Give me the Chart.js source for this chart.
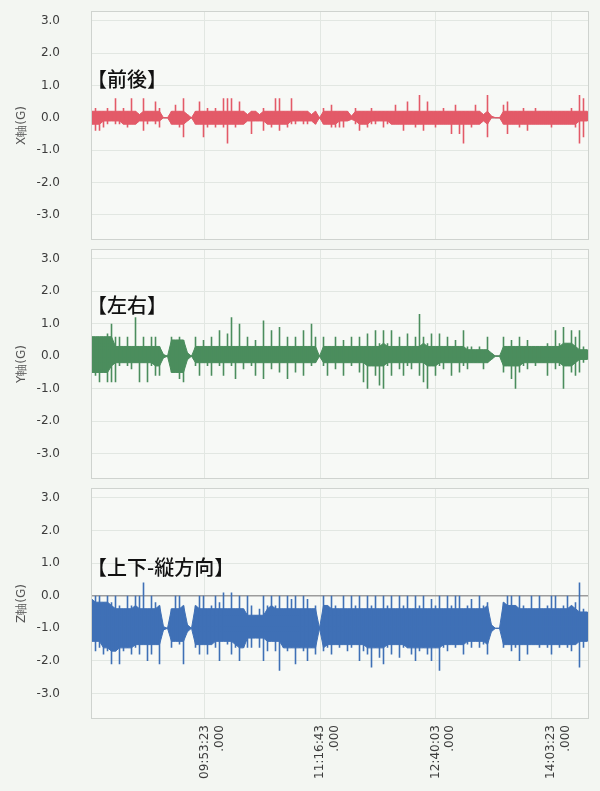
<!DOCTYPE html>
<html>
<head>
<meta charset="utf-8">
<script src="https://cdn.jsdelivr.net/npm/chart.js@4.4.1/dist/chart.umd.min.js"></script>
<style>
  html, body { margin: 0; padding: 0; background: #f3f6f2; }
  #wrap { position: relative; width: 600px; height: 791px; overflow: hidden; }
  canvas { position: absolute; left: 0; }
  .ttl {
    position: absolute; left: 87px; font-family: "Noto Sans CJK JP", sans-serif;
    font-size: 20px; line-height: 20px; color: #111; font-weight: 500; white-space: nowrap;
  }
</style>
</head>
<body>
<div id="wrap">
  <canvas id="xChart" width="600" height="245" style="top:0px"></canvas>
  <canvas id="yChart" width="600" height="239" style="top:245px"></canvas>
  <canvas id="zChart" width="600" height="307" style="top:484px"></canvas>
  <div class="ttl" style="top:69px">【前後】</div>
  <div class="ttl" style="top:295px">【左右】</div>
  <div class="ttl" style="top:557px">【上下-縦方向】</div>
</div>
<script>
// Time axis (seconds since midnight)
const TIME_MIN = 30661;
const TIME_MAX = 52250;
const TIME_TICKS = [35603, 40603, 45603, 50603]; // 09:53:23, 11:16:43, 12:40:03, 14:03:23
const Y_TICKS = [-3, -2, -1, 0, 1, 2, 3];

// Samples: one max/min pair per bucket
const T_START = 30683;
const STEP = 173.4;

// X axis (front/back) - bucket max / min
const xHi = [0.2,0.3,0.2,0.2,0.3,0.2,0.6,0.2,0.3,0.2, 0.6,0.2,0.1,0.6,0.2,0.2,0.5,0.3,0,0,
  0.2,0.4,0.2,0.6,0.1,0,0.2,0.5,0.2,0.3, 0.2,0.3,0.2,0.6,0.6,0.6,0.2,0.5,0.2,0.1,
  0.2,0.2,0.1,0.3,0.2,0.2,0.6,0.6,0.2,0.2, 0.6,0.2,0.2,0.2,0.2,0.1,0.2,0,0.3,0.2,
  0.4,0.2,0.2,0.2,0.2,0.05,0.3,0.2,0.2,0.2, 0.3,0.2,0.2,0.2,0.2,0.2,0.4,0.2,0.2,0.5,
  0.2,0.2,0.7,0.2,0.5,0.2,0.2,0.2,0.3,0.2, 0.2,0.4,0.2,0.2,0.2,0.2,0.4,0.2,0.1,0.7,
  0.05,0,0,0.4,0.5,0.2,0.2,0.2,0.3,0.2, 0.2,0.3,0.2,0.2,0.2,0.2,0.2,0.2,0.2,0.2,
  0.3,0.2,0.7,0.6,0.2];
const xLo = [-0.2,-0.4,-0.4,-0.3,-0.2,-0.1,-0.2,-0.2,-0.2,-0.3, -0.2,-0.2,-0.1,-0.4,-0.2,-0.1,-0.2,-0.3,0,0,
  -0.2,-0.2,-0.3,-0.6,-0.1,0,-0.2,-0.2,-0.6,-0.3, -0.2,-0.3,-0.2,-0.3,-0.8,-0.2,-0.3,-0.2,-0.2,-0.1,
  -0.5,-0.1,-0.1,-0.4,-0.2,-0.3,-0.2,-0.4,-0.2,-0.3, -0.2,-0.2,-0.1,-0.2,-0.2,-0.1,-0.2,0,-0.2,-0.2,
  -0.3,-0.3,-0.3,-0.3,-0.1,-0.05,-0.2,-0.4,-0.2,-0.3, -0.2,-0.2,-0.1,-0.3,-0.2,-0.2,-0.2,-0.2,-0.4,-0.2,
  -0.2,-0.3,-0.2,-0.4,-0.2,-0.2,-0.3,-0.2,-0.2,-0.2, -0.5,-0.2,-0.5,-0.8,-0.2,-0.3,-0.2,-0.2,-0.1,-0.6,
  0,0,0,-0.2,-0.5,-0.2,-0.2,-0.3,-0.2,-0.4, -0.2,-0.2,-0.2,-0.2,-0.2,-0.3,-0.2,-0.2,-0.2,-0.2,
  -0.2,-0.3,-0.8,-0.6,-0.1];

// Y axis (left/right)
const yHi = [0.6,0.6,0.6,0.6,0.7,1.0,0.6,0.6,0.3,0.6, 0.3,1.2,0.3,0.6,0.3,0.6,0.6,0.3,0.05,0,
  0.6,0.5,0.6,0.5,0.1,0,0.6,0.3,0.5,0.3, 0.6,0.3,0.8,0.3,0.7,1.2,0.3,1.0,0.3,0.6,
  0.3,0.5,0.3,1.1,0.3,0.8,0.3,0.9,0.3,0.6, 0.3,0.6,0.3,0.8,0.3,1.0,0.6,0,0.6,0.3,
  0.3,0.6,0.3,0.5,0.3,0.6,0.3,0.6,0.3,0.7, 0.3,0.8,0.4,0.8,0.4,0.8,0.3,0.6,0.3,0.7,
  0.3,0.6,1.3,0.6,0.4,0.7,0.3,0.7,0.3,0.6, 0.3,0.5,0.3,0.8,0.3,0.3,0.2,0.3,0.2,0.6,
  0.1,0,0,0.6,0.3,0.5,0.3,0.6,0.3,0.5, 0.3,0.3,0.3,0.3,0.4,0.3,0.8,0.4,0.9,0.4,
  0.8,0.6,0.8,0.3,0.2];
const yLo = [-0.5,-0.6,-0.8,-0.5,-0.8,-0.8,-0.8,-0.3,-0.2,-0.3, -0.4,-0.2,-0.8,-0.2,-0.8,-0.3,-0.6,-0.6,-0.05,0,
  -0.5,-0.5,-0.7,-0.8,-0.1,0,-0.3,-0.6,-0.2,-0.3, -0.6,-0.2,-0.3,-0.6,-0.2,-0.3,-0.7,-0.2,-0.4,-0.2,
  -0.3,-0.6,-0.2,-0.7,-0.2,-0.4,-0.2,-0.5,-0.2,-0.7, -0.2,-0.5,-0.2,-0.6,-0.2,-0.3,-0.2,0,-0.3,-0.6,
  -0.2,-0.4,-0.2,-0.6,-0.2,-0.3,-0.2,-0.5,-0.8,-1.0, -0.3,-0.6,-0.9,-1.0,-0.3,-0.6,-0.2,-0.4,-0.6,-0.3,
  -0.4,-0.2,-0.6,-0.8,-1.0,-0.3,-0.6,-0.3,-0.4,-0.2, -0.6,-0.2,-0.5,-0.3,-0.4,-0.2,-0.2,-0.2,-0.4,-0.2,
  -0.1,0,0,-0.5,-0.3,-0.7,-1.0,-0.5,-0.3,-0.4, -0.2,-0.3,-0.2,-0.2,-0.6,-0.2,-0.4,-0.3,-1.0,-0.3,
  -0.5,-0.6,-0.5,-0.2,-0.1];

// Z axis (up/down, vertical)
const zHi = [-0.1,0,0,-0.2,0,-0.2,0,-0.3,-0.4,0, -0.3,0,0,0.4,-0.4,0,-0.2,-0.3,-0.95,-1,
  -0.4,0,0,-0.3,-0.9,-1,-0.3,0,0,-0.4, -0.3,0,-0.2,0.1,-0.4,0.1,-0.4,0,-0.4,0,
  -0.3,-0.6,-0.4,0,-0.3,0,-0.3,0,-0.4,0, -0.1,0,-0.4,0,-0.1,-0.4,-0.3,-1,0,-0.3,
  0,-0.3,-0.4,0,-0.4,0,-0.3,0,-0.4,0, -0.3,0,-0.4,0,-0.3,0,-0.4,0,-0.3,0,
  -0.4,0,-0.3,0,-0.4,-0.1,-0.3,0,-0.4,0, -0.3,0,0,-0.4,-0.3,-0.1,-0.4,0,-0.3,-0.2,
  -0.9,-1,-1,-0.2,0,0,-0.3,0,-0.3,-0.4, 0,-0.4,0,-0.4,-0.3,0,0,-0.4,-0.3,0,
  -0.3,-0.2,0.4,-0.4,-0.5];
const zLo = [-1.4,-1.7,-1.6,-1.8,-1.7,-2.1,-1.7,-2.1,-1.7,-1.6, -1.8,-1.6,-1.8,-1.5,-2.0,-1.8,-1.5,-2.1,-1.05,-1,
  -1.6,-1.4,-1.5,-2.1,-1.1,-1,-1.6,-1.8,-1.5,-1.8, -1.5,-1.6,-2.0,-1.4,-1.5,-1.8,-1.6,-2.0,-1.6,-1.6,
  -1.6,-1.3,-1.6,-2.0,-1.7,-1.4,-1.7,-2.3,-1.6,-1.7, -1.6,-2.1,-1.6,-1.7,-2.0,-1.6,-1.8,-1,-1.7,-1.6,
  -1.8,-1.5,-1.6,-1.5,-1.7,-1.6,-1.5,-2.0,-1.7,-1.8, -2.2,-1.6,-1.9,-2.1,-1.6,-1.8,-1.5,-1.9,-1.6,-1.6,
  -1.8,-2.0,-1.7,-1.6,-1.8,-2.0,-1.6,-2.3,-1.6,-1.7, -1.5,-1.6,-1.5,-1.8,-1.5,-1.6,-1.4,-1.6,-1.5,-1.8,
  -1.1,-1,-1,-1.6,-1.5,-1.7,-1.6,-2.0,-1.5,-1.8, -1.5,-1.5,-1.6,-1.5,-1.6,-1.8,-1.5,-1.6,-1.5,-1.6,
  -1.7,-1.5,-2.2,-1.6,-1.4];

// Vertical max-min stroke per bucket (null breaks the line between buckets)
function buildSpikes(hi, lo) {
  const pts = [];
  for (let i = 0; i < hi.length; i++) {
    const t = T_START + i * STEP;
    pts.push({ x: t, y: hi[i] }, { x: t, y: lo[i] }, { x: t, y: null });
  }
  return pts;
}

// Dense core band: level reached by every active bucket within two of this one
// (quiet buckets, where max and min nearly meet, are left out)
function buildCore(arr, hi, lo, pick) {
  const active = (j) => j >= 0 && j < arr.length && hi[j] - lo[j] > 0.25;
  return arr.map((v, i) => {
    const vals = [v];
    if (active(i)) {
      for (let j = i - 2; j <= i + 2; j++) if (j !== i && active(j)) vals.push(arr[j]);
    }
    return { x: T_START + i * STEP, y: pick(...vals) };
  });
}

function fmtTime(sec) {
  const h = Math.floor(sec / 3600);
  const m = Math.floor((sec % 3600) / 60);
  const s = Math.round(sec % 60);
  const p = (n) => String(n).padStart(2, "0");
  return `${p(h)}:${p(m)}:${p(s)}`;
}

// Plot background + frame
const framePlugin = {
  id: "frame",
  beforeDraw(chart) {
    const { ctx, chartArea: a } = chart;
    ctx.save();
    ctx.fillStyle = "#f7f9f6";
    ctx.fillRect(a.left, a.top, a.right - a.left, a.bottom - a.top);
    ctx.restore();
  },
  afterDraw(chart) {
    const { ctx, chartArea: a } = chart;
    ctx.save();
    ctx.strokeStyle = "#cfd3cf";
    ctx.lineWidth = 1;
    ctx.strokeRect(a.left + 0.5, a.top + 0.5, a.right - a.left - 1, a.bottom - a.top - 1);
    ctx.restore();
  },
};

function makePanel(id, hi, lo, color, axisTitle, showTime, pad) {
  const ctx = document.getElementById(id).getContext("2d");
  return new Chart(ctx, {
    type: "line",
    data: {
      datasets: [
        {
          data: buildSpikes(hi, lo),
          borderColor: color,
          borderWidth: 1.6,
          pointRadius: 0,
          spanGaps: false,
          fill: false,
          order: 0,
        },
        {
          data: buildCore(hi, hi, lo, Math.min),
          borderColor: color,
          backgroundColor: color,
          borderWidth: 1,
          pointRadius: 0,
          fill: "+1",
          order: 1,
        },
        {
          data: buildCore(lo, hi, lo, Math.max),
          borderColor: color,
          borderWidth: 1,
          pointRadius: 0,
          fill: false,
          order: 2,
        },
      ],
    },
    options: {
      responsive: false,
      animation: false,
      events: [],
      layout: {
        autoPadding: false,
        padding: { left: 0, right: 11, top: pad.top, bottom: pad.bottom },
      },
      plugins: { legend: { display: false }, tooltip: { enabled: false } },
      scales: {
        x: {
          type: "linear",
          min: TIME_MIN,
          max: TIME_MAX,
          afterBuildTicks: (s) => {
            s.ticks = TIME_TICKS.map((v) => ({ value: v }));
          },
          afterFit: (s) => {
            s.height = showTime ? 72 : 0;
            s.paddingLeft = 0;
            s.paddingRight = 0;
          },
          grid: { color: "#e2e7e2", lineWidth: 1, drawTicks: false },
          border: { display: false },
          ticks: {
            display: showTime,
            autoSkip: false,
            minRotation: 90,
            maxRotation: 90,
            padding: 6,
            color: "#3c3c3c",
            font: { family: "DejaVu Sans", size: 12 },
            callback: (v) => [fmtTime(v), ".000"],
          },
        },
        y: {
          min: -3.78,
          max: 3.3,
          afterBuildTicks: (s) => {
            s.ticks = Y_TICKS.map((v) => ({ value: v }));
          },
          afterFit: (s) => {
            s.width = 91;
            s.paddingTop = 0;
            s.paddingBottom = 0;
          },
          grid: {
            drawTicks: false,
            color: (c) => (c.tick && c.tick.value === 0 ? "#9c9c9c" : "#e2e7e2"),
            lineWidth: (c) => (c.tick && c.tick.value === 0 ? 1.5 : 1),
          },
          border: { display: false },
          ticks: {
            padding: 31,
            color: "#3c3c3c",
            font: { family: "DejaVu Sans", size: 12 },
            callback: (v) => v.toFixed(1),
          },
          title: {
            display: true,
            text: axisTitle,
            color: "#555",
            font: { family: "DejaVu Sans", size: 12 },
            padding: { top: 15, bottom: 0 },
          },
        },
      },
    },
    plugins: [framePlugin],
  });
}

makePanel("xChart", xHi, xLo, "#e35a68", "X軸(G)", false, { top: 11, bottom: 5 });
makePanel("yChart", yHi, yLo, "#4b8d5d", "Y軸(G)", false, { top: 4, bottom: 5 });
makePanel("zChart", zHi, zLo, "#3f70b6", "Z軸(G)", true, { top: 4, bottom: 0 });
</script>
</body>
</html>
